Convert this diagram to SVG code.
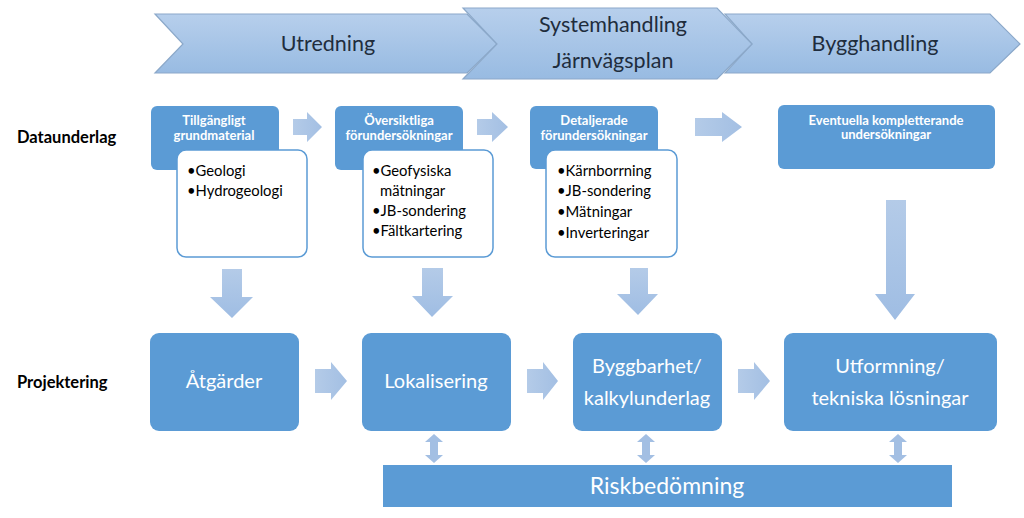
<svg xmlns="http://www.w3.org/2000/svg" width="1024" height="518" viewBox="0 0 1024 518">
<defs>
<linearGradient id="chev" x1="0" y1="0" x2="0" y2="1">
<stop offset="0" stop-color="#b7cfec"/>
<stop offset="1" stop-color="#98bbe2"/>
</linearGradient>
<linearGradient id="arrV" x1="0" y1="0" x2="0" y2="1">
<stop offset="0" stop-color="#b4cbe8"/>
<stop offset="1" stop-color="#9fbde3"/>
</linearGradient>
<linearGradient id="arrH" x1="0" y1="0" x2="1" y2="0">
<stop offset="0" stop-color="#b4cbe8"/>
<stop offset="1" stop-color="#a3bfe3"/>
</linearGradient>
</defs>
<style>
.chev{fill:url(#chev);stroke:#8ba8c9;stroke-width:1.2}
.ct{font-family:Lato,"Open Sans",sans-serif;font-size:21.5px;fill:#1f2d3d;text-anchor:middle}
.side{font-family:Lato,"Open Sans",sans-serif;font-size:16.5px;font-weight:bold;fill:#000}
.dk{fill:#5b9bd5}
.hd{font-family:Lato,"Open Sans",sans-serif;font-size:13px;font-weight:bold;fill:#fff;text-anchor:middle}
.wb{fill:#fff;stroke:#5b9bd5;stroke-width:1.5}
.bl{font-family:Lato,"Open Sans",sans-serif;font-size:14.8px;fill:#000}
.bt{font-family:Lato,"Open Sans",sans-serif;font-size:20px;fill:#fff;text-anchor:middle}
.rk{font-family:Lato,"Open Sans",sans-serif;font-size:23px;fill:#fff;text-anchor:middle}
.av{fill:url(#arrV)}
.ah{fill:url(#arrH)}
.dbl{fill:#a3bfe3}
</style>

<g id="phase-utredning">
<polygon class="chev" points="155,14 467,14 497,44 467,73 155,73 183,44"/>
<text class="ct" x="328" y="51">Utredning</text>
</g>
<g id="phase-bygghandling">
<polygon class="chev" points="725,14 990,14 1020,44 990,73 725,73 752,44"/>
<text class="ct" x="875" y="51">Bygghandling</text>
</g>
<g id="phase-systemhandling">
<polygon class="chev" points="463,8 717,8 752,44 717,79 463,79 497,44"/>
<text class="ct" x="613" y="32">Systemhandling</text>
<text class="ct" x="613" y="68">Järnvägsplan</text>
</g>

<g id="label-dataunderlag"><text class="side" x="17" y="143">Dataunderlag</text></g>
<g id="label-projektering"><text class="side" x="17" y="388">Projektering</text></g>

<g id="connectors">
<polygon class="ah" points="293,119 307,119 307,112 322,127 307,142 307,135 293,135"/>
<polygon class="ah" points="477,119 492,119 492,112 508,127 492,142 492,135 477,135"/>
<polygon class="ah" points="695,118 722,118 722,112 742,127 722,142 722,136 695,136"/>
<polygon class="av" points="222,269 242,269 242,297 253,297 232,318 210,297 222,297"/>
<polygon class="av" points="422,268 443,268 443,296 453,296 432,317 412,296 422,296"/>
<polygon class="av" points="630,268 648,268 648,294 658,294 638,315 617,294 630,294"/>
<polygon class="av" points="886,200 906,200 906,294 915,294 895,320 875,294 886,294"/>
<polygon class="ah" points="315,369 331,369 331,362 347,381 331,400 331,393 315,393"/>
<polygon class="ah" points="527,369 543,369 543,362 558,381 543,400 543,393 527,393"/>
<polygon class="ah" points="738,369 754,369 754,362 770,381 754,400 754,393 738,393"/>
<polygon class="dbl" points="434,434 443,442 438,442 438,455 443,455 434,463 425,455 430,455 430,442 425,442"/>
<polygon class="dbl" points="646,434 655,442 650,442 650,455 655,455 646,463 637,455 642,455 642,442 637,442"/>
<polygon class="dbl" points="898,434 907,442 902,442 902,455 907,455 898,463 889,455 894,455 894,442 889,442"/>
</g>

<g id="node-tillgangligt">
<rect class="dk" x="151" y="106" width="128" height="64" rx="6"/>
<text class="hd" x="214" y="125">Tillgängligt</text>
<text class="hd" x="214" y="140">grundmaterial</text>
<rect class="wb" x="177" y="150" width="130" height="107" rx="9"/>
<text class="bl" x="187" y="176">•Geologi</text>
<text class="bl" x="187" y="196">•Hydrogeologi</text>
</g>

<g id="node-oversiktliga">
<rect class="dk" x="335" y="106" width="128" height="64" rx="6"/>
<text class="hd" x="399" y="125">Översiktliga</text>
<text class="hd" x="399" y="140">förundersökningar</text>
<rect class="wb" x="363" y="150" width="130" height="107" rx="9"/>
<text class="bl" x="372" y="176">•Geofysiska</text>
<text class="bl" x="380" y="196">mätningar</text>
<text class="bl" x="372" y="216">•JB-sondering</text>
<text class="bl" x="372" y="236">•Fältkartering</text>
</g>

<g id="node-detaljerade">
<rect class="dk" x="530" y="106" width="128" height="63" rx="6"/>
<text class="hd" x="594" y="125">Detaljerade</text>
<text class="hd" x="594" y="140">förundersökningar</text>
<rect class="wb" x="546" y="150" width="131" height="107" rx="9"/>
<text class="bl" x="557" y="176">•Kärnborrning</text>
<text class="bl" x="557" y="196">•JB-sondering</text>
<text class="bl" x="557" y="217">•Mätningar</text>
<text class="bl" x="557" y="238">•Inverteringar</text>
</g>

<g id="node-eventuella">
<rect class="dk" x="778" y="105" width="217" height="64" rx="6"/>
<text class="hd" x="886" y="125">Eventuella kompletterande</text>
<text class="hd" x="886" y="139">undersökningar</text>
</g>

<g id="node-atgarder">
<rect class="dk" x="150" y="333" width="149" height="98" rx="9"/>
<text class="bt" x="224" y="388">Åtgärder</text>
</g>
<g id="node-lokalisering">
<rect class="dk" x="362" y="333" width="149" height="98" rx="9"/>
<text class="bt" x="436" y="388">Lokalisering</text>
</g>
<g id="node-byggbarhet">
<rect class="dk" x="573" y="333" width="149" height="98" rx="9"/>
<text class="bt" x="647" y="373">Byggbarhet/</text>
<text class="bt" x="647" y="405">kalkylunderlag</text>
</g>
<g id="node-utformning">
<rect class="dk" x="784" y="333" width="213" height="98" rx="9"/>
<text class="bt" x="890" y="373">Utformning/</text>
<text class="bt" x="890" y="405">tekniska lösningar</text>
</g>

<g id="node-riskbedomning">
<rect class="dk" x="383" y="465" width="569" height="42"/>
<text class="rk" x="667" y="494">Riskbedömning</text>
</g>
</svg>
